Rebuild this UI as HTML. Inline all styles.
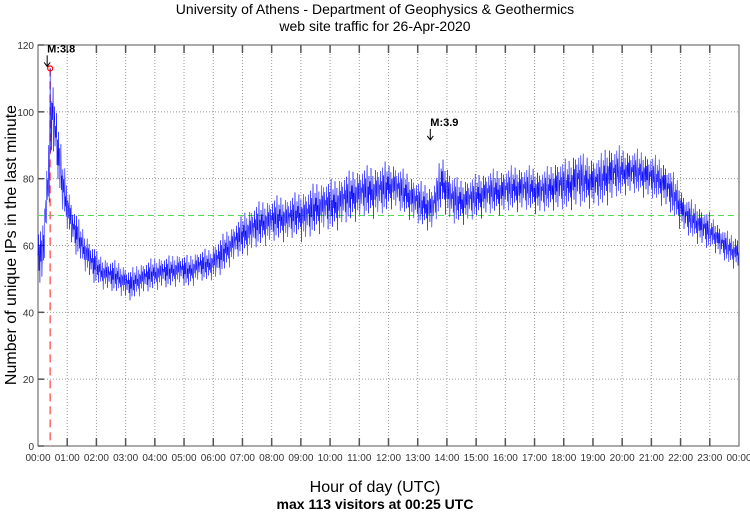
<!DOCTYPE html>
<html><head><meta charset="utf-8"><style>
body{margin:0;background:#fff}
svg text{font-family:"Liberation Sans",sans-serif}
</style></head><body>
<svg id="c" width="750" height="511" xmlns="http://www.w3.org/2000/svg">
<text x="375" y="14" text-anchor="middle" font-size="14">University of Athens - Department of Geophysics &amp; Geothermics</text>
<text x="375" y="31" text-anchor="middle" font-size="14">web site traffic for 26-Apr-2020</text>
<text x="375" y="492" text-anchor="middle" font-size="16">Hour of day (UTC)</text>
<text x="375" y="509" text-anchor="middle" font-size="14" font-weight="bold">max 113 visitors at 00:25 UTC</text>
<text transform="translate(16,245) rotate(-90)" text-anchor="middle" font-size="16">Number of unique IPs in the last minute</text>
<g id="grid"></g><g id="series"></g><g id="ann"></g>
</svg>
<script>
const hourLabels=["00:00","01:00","02:00","03:00","04:00","05:00","06:00","07:00","08:00","09:00","10:00","11:00","12:00","13:00","14:00","15:00","16:00","17:00","18:00","19:00","20:00","21:00","22:00","23:00","00:00"];
const yTicks=[0,20,40,60,80,100,120];
// 20-minute bin means (72 bins)
const binMeans=[57,100,78, 66,60,55, 52,51,50, 48,50,51, 52,52,53, 52,54,54, 56,59,62, 64,66,67, 68,68,69, 69,71,72, 72,74,75, 76,76,77, 78,76,74, 72,71,79, 74,73,74, 75,76,76, 77,77,77, 76,77,78, 78,80,79, 79,81,82, 82,82,81, 80,78,74, 69,67,65, 63,60,58];
const binSpread=[9,12,9, 7,6,6, 5,5,5, 5,5,5, 5,5,5, 5,5,5, 6,6,6, 7,7,7, 7,7,7, 8,8,8, 8,8,8, 8,8,8, 7,7,7, 7,7,8, 8,7,7, 7,7,7, 7,7,7, 7,7,8, 8,9,8, 8,9,8, 7,7,7, 7,7,7, 6,6,6, 5,5,5];
const peakMinute=[25], peakValue=[113];
const avgLine=[69];
const quakes=[{label:"M:3.8",minute:25,value:113},{label:"M:3.9",minute:812,value:91}];
const pattern=[0,0.7,-0.5,0.3,-0.9,0.8,-0.2,0.5,-0.7,0.1,1,-0.4,0.2,-0.8,0.6,-0.1,0.4,-0.6,0.9,-0.3,0.1,-0.5,0.6,-1,0.3,0.2,-0.3,0.8,-0.6,0.4,-0.2,0.7,-0.8,0,0.5,-0.4,0.2];
const L=38,R=739,T=45,B=446;
const X=m=>L+(R-L)*m/1440, Y=v=>B-(B-T)*v/120;
const NS="http://www.w3.org/2000/svg";
function mk(tag,a,p){const e=document.createElementNS(NS,tag);for(const k in a)e.setAttribute(k,a[k]);p.appendChild(e);return e;}
const g=document.getElementById('grid');
hourLabels.forEach((h,i)=>{const x=X(i*60);
 if(i>0&&i<24){const l=mk('line',{x1:x,x2:x,y1:T,y2:B,stroke:'#999','stroke-dasharray':'1,2'},g);
 mk('line',{x1:x,x2:x,y1:B,y2:B-8,stroke:'#555','stroke-width':1.5},g);mk('line',{x1:x,x2:x,y1:T,y2:T+8,stroke:'#555','stroke-width':1.5},g);}
 const t=mk('text',{x:x,y:B+15,'text-anchor':'middle','font-size':10,fill:'#333'},g);t.textContent=h;
 });
yTicks.forEach(v=>{const y=Y(v);
 if(v>0&&v<120){const l=mk('line',{x1:L,x2:R,y1:y,y2:y,stroke:'#999','stroke-dasharray':'1,2'},g);}
 mk('line',{x1:L,x2:L+6,y1:y,y2:y,stroke:'#555','stroke-width':1.5},g);
 const t=mk('text',{x:L-4,y:y+4,'text-anchor':'end','font-size':10,fill:'#333'},g);t.textContent=v;
 });
const fr=mk('rect',{x:L,y:T,width:R-L,height:B-T,fill:'none',stroke:'#555'},g);

const s=document.getElementById('series');
const ay=Math.round(Y(avgLine[0]))+0.5;
const av=mk('line',{x1:L,x2:R,y1:ay,y2:ay,stroke:'#5d5','stroke-dasharray':'6,4'},s);

const pv=mk('line',{x1:X(peakMinute[0]),x2:X(peakMinute[0]),y1:Y(peakValue[0]),y2:B,stroke:'#f66','stroke-width':1.5,'stroke-dasharray':'8,5'},s);

let pts=[];
for(let m=0;m<1440;m++){const f=m/20-0.5;let i=Math.floor(f),fr2=f-i;const a=binMeans[Math.max(0,i)],b=binMeans[Math.min(71,i+1)];
 const sp=binSpread[Math.min(71,Math.max(0,Math.round(f)))];
 let v=a+(b-a)*fr2+pattern[m%pattern.length]*sp;
 if(m===peakMinute[0])v=peakValue[0];
 pts.push(X(m).toFixed(1)+','+Y(v).toFixed(1));}
const pl=mk('polyline',{points:pts.join(' '),fill:'none',stroke:'#00f','stroke-width':0.5},s);

const pc=mk('circle',{cx:X(peakMinute[0]),cy:Y(peakValue[0]),r:2.5,fill:'none',stroke:'#f00','stroke-width':1.2},s);

const an=document.getElementById('ann');
quakes.forEach(q=>{const x=X(q.minute),y=Y(q.value);
 const t=mk('text',{x:x-3,y:y-16,'font-size':11,'font-weight':'bold'},an);t.textContent=q.label;
 
 mk('path',{d:`M${x-3},${y-13}L${x-3},${y-2}M${x-6},${y-6}L${x-3},${y-2}L${x},${y-6}`,stroke:'#000',fill:'none'},an);});
</script>
</body></html>
